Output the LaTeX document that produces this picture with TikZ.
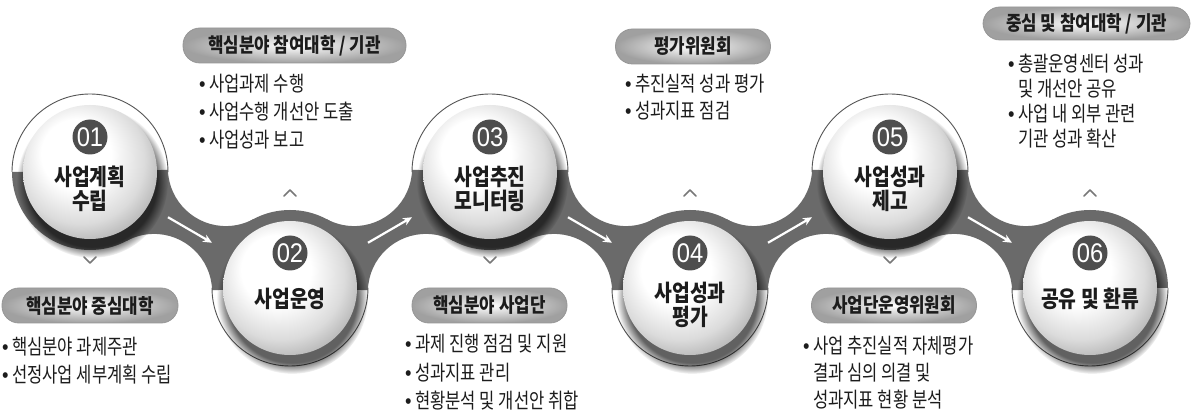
\documentclass[tikz,border=0pt]{standalone}
\usepackage{fontspec}
\usetikzlibrary{calc,arrows.meta,shadows}
\setmainfont{Liberation Sans}
\newfontfamily\krlist{Noto Sans CJK KR}[FakeStretch=0.79]
\newfontfamily\krtitle{Noto Sans CJK KR}[FakeStretch=0.84]
\newfontfamily\numfont{Liberation Sans}[FakeStretch=0.88]
\definecolor{bandgray}{RGB}{106,106,106}
\definecolor{rimgray}{RGB}{85,85,85}
\definecolor{badgegray}{RGB}{78,78,78}
\definecolor{pillgray}{RGB}{160,160,160}
\definecolor{pillline}{RGB}{150,150,150}
\definecolor{chevgray}{RGB}{120,120,120}
\definecolor{ink}{RGB}{28,28,28}
\pgfdeclareradialshading{discball}{\pgfpoint{-7bp}{9bp}}{%
  color(0bp)=(white); color(13bp)=(white); color(24bp)=(black!14);
  color(31bp)=(black!30); color(50bp)=(black!30)}
\newcommand{\bul}{\makebox[10pt][l]{\numfont\textbullet}}
\newcommand{\nobul}{\hspace*{10pt}}
% band pieces, drawn relative to a circle centre
\newcommand{\lowhalf}[1]{%
  \fill[bandgray,shift={(#1)}] (-78,0) arc[start angle=180,end angle=0,radius=78] -- cycle;}
\newcommand{\uphalf}[1]{%
  \fill[bandgray,shift={(#1)}] (-78,0) arc[start angle=180,end angle=360,radius=78] -- cycle;}
\newcommand{\downneck}[1]{%
  \fill[bandgray,shift={(#1)}] (0,0) -- (77.9,-2.2)
    arc[start angle=178.3,end angle=61.9,radius=58] -- (200,116) -- (122.1,118.2)
    arc[start angle=-1.7,end angle=-118.1,radius=58] -- cycle;}
\newcommand{\upneck}[1]{%
  \fill[bandgray,shift={(#1)}] (0,0) -- (77.9,2.2)
    arc[start angle=181.7,end angle=298.1,radius=58] -- (200,-116) -- (122.1,-118.2)
    arc[start angle=1.7,end angle=118.1,radius=58] -- cycle;}

\begin{document}
\begin{tikzpicture}[x=1pt,y=-1pt,
  disc/.style={circle,minimum size=134,inner sep=0,shade,shading=discball,
    circular drop shadow={shadow xshift=2pt,shadow yshift=-9pt,shadow scale=1.13,fill=black,opacity=0.62}},
  badge/.style={circle,fill=badgegray,minimum size=35,inner sep=0,text=white,
    font=\numfont\fontsize{27}{27}\selectfont},
  title/.style={align=center,inner sep=0,text=ink,font=\krtitle\bfseries\fontsize{23}{23.5}\selectfont},
  pill/.style={rounded corners=17pt,minimum height=35,inner sep=0,draw=pillline,line width=0.8,
    shade,inner color=white,outer color=pillgray,text=ink,
    font=\krtitle\bfseries\fontsize{20}{24}\selectfont},
  item/.style={anchor=base west,inner sep=0,text=ink,font=\krlist\fontsize{21}{28}\selectfont},
  rim/.style={draw=rimgray,line width=0.9},
  flow/.style={draw=white,line width=2.2,-{Stealth[length=9pt,width=8pt]}},
  chev/.style={draw=chevgray,line width=1.5,line cap=round,line join=round}]
\fill[white] (0,0) rectangle (1195,414);
\useasboundingbox (0,0) rectangle (1195,414);
\foreach \i/\x/\y in {1/90/172,2/290/288,3/490/172,4/690/288,5/890/172,6/1090/288}
  \coordinate (c\i) at (\x,\y);
% ---- grey band ----
\foreach \i in {1,3,5} {\lowhalf{c\i}}
\foreach \i in {2,4,6} {\uphalf{c\i}}
\downneck{c1} \upneck{c2} \downneck{c3} \upneck{c4} \downneck{c5}
\foreach \i in {1,3,5}
  \draw[rim,shift={(c\i)}] (-78,0) arc[start angle=180,end angle=360,radius=78];
\foreach \i in {2,4,6}
  \draw[rim,shift={(c\i)}] (-78,0) arc[start angle=180,end angle=0,radius=78];
% ---- steps ----
\foreach \i in {1,...,6} \node[disc] (s\i) at (c\i) {};
\foreach \i in {1,...,6} \node[badge] (n\i) at ($(s\i)+(0,-35)$) {0\i};
\node[title] (t1) at ($(s1)+(0,17)$) {사업계획\\수립};
\node[title] (t2) at ($(s2)+(0,11)$) {사업운영};
\node[title] (t3) at ($(s3)+(0,17)$) {사업추진\\모니터링};
\node[title] (t4) at ($(s4)+(0,17)$) {사업성과\\평가};
\node[title] (t5) at ($(s5)+(0,17)$) {사업성과\\제고};
\node[title] (t6) at ($(s6)+(0,11)$) {공유 및 환류};
\foreach \i/\j in {1/2,2/3,3/4,4/5,5/6}
  \draw[flow] ($(s\i)!0.39!(s\j)$) -- ($(s\i)!0.61!(s\j)$);
\foreach \i in {1,3,5} \draw[chev] ($(c\i)+(-6,85)$) -- ++(6,6) -- ++(6,-6);
\foreach \i in {2,4,6} \draw[chev] ($(c\i)+(-6,-92)$) -- ++(6,-6) -- ++(6,6);
% ---- groups ----
\node[pill,minimum width=176] (p1) at (90,305.5) {핵심분야 중심대학};
\node[pill,minimum width=223] (p2) at (294.5,45.5) {핵심분야 참여대학 / 기관};
\node[pill,minimum width=155] (p3) at (489.5,305.5) {핵심분야 사업단};
\node[pill,minimum width=155] (p4) at (693,46.5) {평가위원회};
\node[pill,minimum width=165] (p5) at (894,305.5) {사업단운영위원회};
\node[pill,minimum width=207,minimum height=33] (p6) at (1086.5,23.5) {중심 및 참여대학 / 기관};
\foreach \t [count=\i] in {\bul 핵심분야 과제주관, \bul 선정사업 세부계획 수립}
  \node[item] (p1l\i) at (2,{326+28*\i}) {\t};
\foreach \t [count=\i] in {\bul 사업과제 수행, \bul 사업수행 개선안 도출, \bul 사업성과 보고}
  \node[item] (p2l\i) at (199,{64+28*\i}) {\t};
\foreach \t [count=\i] in {\bul 과제 진행 점검 및 지원, \bul 성과지표 관리, \bul 현황분석 및 개선안 취합}
  \node[item] (p3l\i) at (405,{324+28*\i}) {\t};
\foreach \t [count=\i] in {\bul 추진실적 성과 평가, \bul 성과지표 점검}
  \node[item] (p4l\i) at (625,{65+27*\i}) {\t};
\foreach \t [count=\i] in {\bul 사업 추진실적 자체평가, \nobul 결과 심의 의결 및, \nobul 성과지표 현황 분석}
  \node[item] (p5l\i) at (803,{326+27*\i}) {\t};
\foreach \t [count=\i] in {\bul 총괄운영센터 성과, \nobul 및 개선안 공유, \bul 사업 내 외부 관련, \nobul 기관 성과 확산}
  \node[item] (p6l\i) at (1008,{47+25*\i}) {\t};
\end{tikzpicture}
\end{document}
